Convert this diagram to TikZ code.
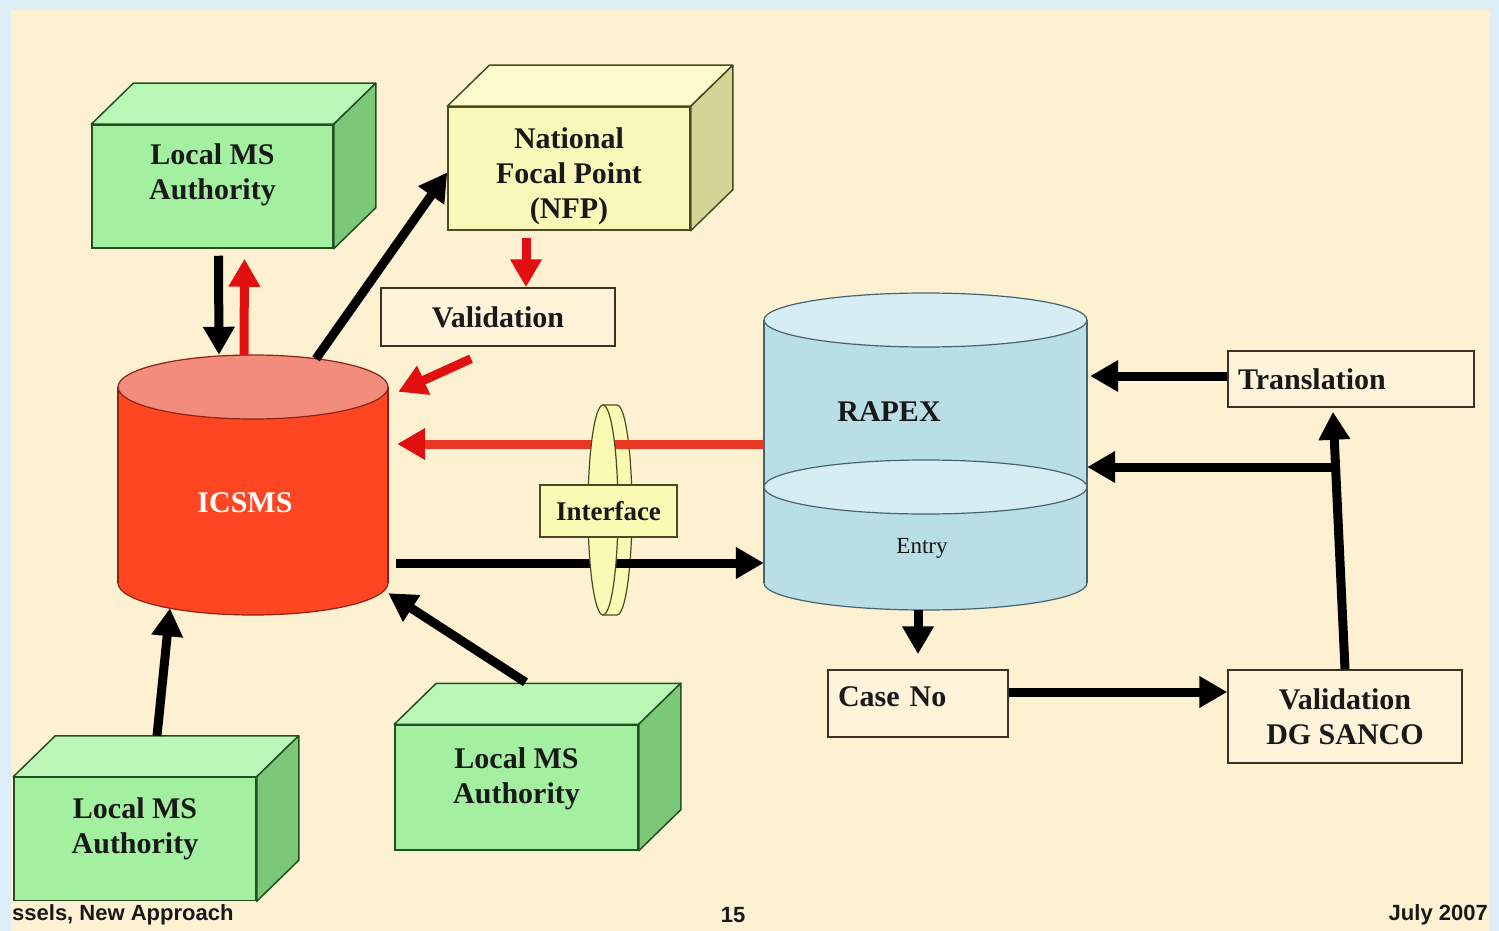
\documentclass[tikz,border=0pt]{standalone}
\usepackage{fontspec}
\setmainfont{Liberation Serif}
\newfontfamily\footfont{Liberation Sans}
\usetikzlibrary{arrows.meta}
\definecolor{slideblue}{RGB}{221,238,247}
\definecolor{slidebg}{RGB}{254,241,210}
\definecolor{boxgreen}{RGB}{163,240,160}
\definecolor{topgreen}{RGB}{186,247,182}
\definecolor{sidegreen}{RGB}{122,200,120}
\definecolor{linegreen}{RGB}{35,80,35}
\definecolor{boxyellow}{RGB}{248,248,184}
\definecolor{topyellow}{RGB}{251,251,205}
\definecolor{sideyellow}{RGB}{212,212,150}
\definecolor{lineyellow}{RGB}{75,75,35}
\definecolor{icsmsred}{RGB}{255,70,35}
\definecolor{icsmstop}{RGB}{242,140,125}
\definecolor{icsmsline}{RGB}{140,35,20}
\definecolor{rapexblue}{RGB}{186,222,230}
\definecolor{rapextop}{RGB}{214,237,243}
\definecolor{rapexline}{RGB}{70,100,110}
\definecolor{ringyellow}{RGB}{250,250,180}
\definecolor{arrowred}{RGB}{225,15,15}
\definecolor{linkred}{RGB}{234,55,35}
\definecolor{stepline}{RGB}{60,50,35}
\definecolor{stepfill}{RGB}{255,244,218}
\definecolor{labeltext}{RGB}{25,25,25}

\tikzstyle{block} = [minimum width=241pt, minimum height=123pt, inner sep=0pt, line width=1.5pt]
\tikzstyle{blocktext} = [align=center, text=labeltext, font=\fontsize{30}{35}\selectfont\bfseries]
\tikzstyle{stepbox} = [draw=stepline, fill=stepfill, line width=1.5pt, inner sep=0pt, align=center, text=labeltext, font=\fontsize{30}{35}\selectfont\bfseries]
\tikzstyle{flow} = [line width=9pt, -{Triangle[length=28pt,width=30pt]}]

% top and side faces of a block, #1 node, #2 top, #3 side, #4 line
\newcommand{\blockfaces}[4]{%
  \filldraw[fill=#2, draw=#4, line width=1.5pt, line join=round] (#1.north west) -- ++(42,-41) -- ([shift={(42,-41)}]#1.north east) -- (#1.north east) -- cycle;
  \filldraw[fill=#3, draw=#4, line width=1.5pt, line join=round] (#1.north east) -- ++(42,-41) -- ([shift={(42,-41)}]#1.south east) -- (#1.south east) -- cycle;
}

\begin{document}
\begin{tikzpicture}[x=1pt, y=-1pt]
  \useasboundingbox (0,0) rectangle (1499,931);
  \fill[slideblue] (0,0) rectangle (1499,931);
  \fill[slidebg] (11,10) rectangle (1490,931);

  % ICSMS
  \node[minimum width=270pt, minimum height=260pt, inner sep=0pt] (icsms) at (253,485) {};
  \filldraw[fill=icsmsred, draw=icsmsline, line width=1.2pt] (253,583) ellipse[x radius=135, y radius=32];
  \fill[icsmsred] (118,387) rectangle (388,583);
  \draw[icsmsline, line width=1.2pt] (118,387) -- (118,583) (388,387) -- (388,583);
  \filldraw[fill=icsmstop, draw=icsmsline, line width=1.2pt] (253,387) ellipse[x radius=135, y radius=32];
  \node[text=white, font=\fontsize{30}{36}\selectfont\bfseries] (icsmslabel) at (245,503) {ICSMS};

  % RAPEX
  \node[minimum width=323pt, minimum height=317pt, inner sep=0pt] (rapex) at (925.5,451.5) {};
  \filldraw[fill=rapexblue, draw=rapexline, line width=1.2pt] (925.5,583) ellipse[x radius=161.5, y radius=27];
  \fill[rapexblue] (764,320) rectangle (1087,583);
  \draw[rapexline, line width=1.2pt] (764,320) -- (764,583) (1087,320) -- (1087,583);
  \filldraw[fill=rapextop, draw=rapexline, line width=1.2pt] (925.5,320) ellipse[x radius=161.5, y radius=27];
  \filldraw[fill=rapextop, draw=rapexline, line width=1.2pt] (925.5,487) ellipse[x radius=161.5, y radius=27];
  \node[text=labeltext, font=\fontsize{30}{36}\selectfont\bfseries] (rapexlabel) at (889,412) {RAPEX};
  \node[text=labeltext, font=\fontsize{23}{26}\selectfont] (entry) at (922,548) {Entry};

  % interface ring, back part
  \filldraw[fill=ringyellow, draw=lineyellow, line width=1.2pt, line join=round] (603,405) -- (617,405) arc[start angle=-90, end angle=90, x radius=15, y radius=105] -- (603,615) -- cycle;

  % blocks
  \node[block, draw=linegreen, fill=boxgreen, label={[blocktext, yshift=12pt]center:Local MS\\Authority}] (lmstop) at (212.5,186.5) {};
  \blockfaces{lmstop}{topgreen}{sidegreen}{linegreen}
  \node[block, draw=lineyellow, fill=boxyellow, minimum width=242pt, label={[blocktext, yshift=-8pt]center:National\\Focal Point\\(NFP)}] (nfp) at (569,168.5) {};
  \blockfaces{nfp}{topyellow}{sideyellow}{lineyellow}
  \node[block, draw=linegreen, fill=boxgreen, minimum width=242pt, label={[blocktext, yshift=10pt]center:Local MS\\Authority}] (lmsleft) at (135,839) {};
  \blockfaces{lmsleft}{topgreen}{sidegreen}{linegreen}
  \node[block, draw=linegreen, fill=boxgreen, minimum width=243pt, minimum height=125pt, label={[blocktext, yshift=9pt]center:Local MS\\Authority}] (lmsmid) at (516.5,787.5) {};
  \blockfaces{lmsmid}{topgreen}{sidegreen}{linegreen}

  \node[stepbox, minimum width=234pt, minimum height=58pt] (valid) at (498,317) {Validation};
  \node[stepbox, minimum width=246pt, minimum height=56pt, text width=226pt, align=left] (transl) at (1351,379) {Translation};
  \node[stepbox, minimum width=180pt, minimum height=67pt, text width=160pt, align=left, text height=22pt, text depth=17pt] (caseno) at (918,703.5) {Case No};
  \node[stepbox, minimum width=234pt, minimum height=93pt] (dgsanco) at (1345,716.5) {Validation\\DG SANCO};

  % arrows
  \draw[flow] ([xshift=6pt,yshift=-7pt]lmstop.south) -- ([xshift=-34pt]icsms.north);
  \draw[flow, draw=arrowred] ([xshift=-9pt]icsms.north) -- ([xshift=32pt,yshift=-10pt]lmstop.south);
  \draw[flow] ([xshift=63pt,yshift=-4pt]icsms.north) -- ([yshift=-4pt]nfp.west);
  \draw[flow, draw=arrowred] ([xshift=-43pt,yshift=-7pt]nfp.south) -- ([xshift=28pt]valid.north);
  \draw[flow, draw=arrowred] ([xshift=-27pt,yshift=-12pt]valid.south) -- ([xshift=10pt,yshift=-37pt]icsms.north east);
  \draw[flow, draw=linkred, -{Triangle[length=28pt,width=30pt,color=arrowred]}] ([yshift=7.5pt]rapex.west) -- ([xshift=9pt,yshift=41pt]icsms.east);
  \draw[flow] ([xshift=8pt,yshift=-78pt]icsms.east) -- ([yshift=-111.5pt]rapex.west);
  \draw[flow] ([xshift=22pt,yshift=41pt]lmsleft.north) -- ([xshift=-83pt,yshift=7pt]icsms.south);
  \draw[flow] ([xshift=9pt,yshift=42pt]lmsmid.north) -- ([yshift=22pt]icsms.south east);
  \draw[flow] ([yshift=3pt]transl.west) -- ([xshift=3pt,yshift=75.5pt]rapex.east);
  \coordinate (fork) at (1335.7,467);
  \draw[flow] (dgsanco.north) -- ([xshift=-18pt,yshift=-4pt]transl.south);
  \draw[flow] (fork) -- (fork -| rapex.east);
  \draw[flow] ([xshift=-7.5pt]rapex.south) -- ([yshift=15pt]caseno.north);
  \draw[flow] ([yshift=11.5pt]caseno.east) -- ([yshift=24.5pt]dgsanco.west);

  % interface ring, front face
  \filldraw[fill=ringyellow, draw=lineyellow, line width=1.2pt] (603,510) ellipse[x radius=15, y radius=105];
  \node[stepbox, draw=lineyellow, fill=ringyellow, minimum width=137pt, minimum height=52pt, font=\fontsize{27}{30}\selectfont\bfseries] (iface) at (608.5,511) {Interface};

  % footer
  \node[anchor=west, inner sep=0pt, text=labeltext, font=\fontsize{22}{24}\footfont\bfseries] (place) at (12,915) {ssels, New Approach};
  \node[inner sep=0pt, text=labeltext, font=\fontsize{22}{24}\footfont\bfseries] (page) at (733,915) {15};
  \node[anchor=east, inner sep=0pt, text=labeltext, font=\fontsize{22}{24}\footfont\bfseries] (date) at (1488,915) {July 2007};
\end{tikzpicture}
\end{document}
